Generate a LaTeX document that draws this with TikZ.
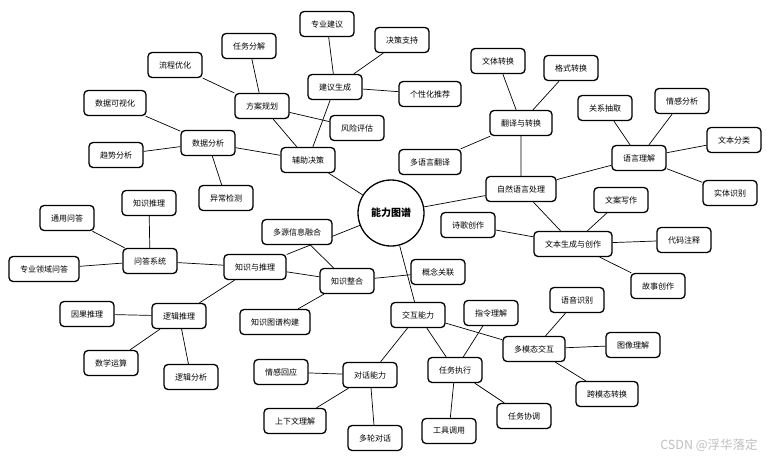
\documentclass[tikz,border=0pt]{standalone}
\usepackage{fontspec}
\setmainfont{Noto Sans CJK SC}
\usetikzlibrary{backgrounds}
\tikzset{
  box/.style={draw, line width=1.3pt, rounded corners=4pt, fill=white, minimum height=25pt, inner xsep=11pt, inner ysep=2pt, font=\fontsize{8}{9}\selectfont},
  hub/.style={draw, circle, line width=1.3pt, fill=white, minimum size=66pt, inner sep=0pt, font=\fontsize{10}{12}\selectfont\bfseries},
  link/.style={draw, line width=0.7pt},
  wmark/.style={text=black!25, font=\fontsize{12.5}{14}\selectfont}
}
\begin{document}
\begin{tikzpicture}[x=1pt,y=-1pt]
\useasboundingbox (0,0) rectangle (775,459);
% central
\node[hub] (c) at (391,213) {能力图谱};
% decision
\node[box] (fzjc) at (308,160) {辅助决策};
\node[box] (sjfx) at (208,143) {数据分析};
\node[box] (fagh) at (262,106) {方案规划};
\node[box] (jysc) at (335,87) {建议生成};
\node[box] (sjksh) at (115,103) {数据可视化};
\node[box] (qsfx) at (116,155) {趋势分析};
\node[box] (ycjc) at (226,198) {异常检测};
\node[box] (lcyh) at (175,65) {流程优化};
\node[box] (rwfj) at (249,46) {任务分解};
\node[box] (fxpg) at (357,128) {风险评估};
\node[box] (zyjy) at (327,24) {专业建议};
\node[box] (jczc) at (402,40) {决策支持};
\node[box] (gxhtj) at (430,94) {个性化推荐};
% NLP
\node[box] (zryy) at (521,189) {自然语言处理};
\node[box] (fyzh) at (521,123) {翻译与转换};
\node[box] (wtzh) at (498,61) {文体转换};
\node[box] (gszh) at (571,68) {格式转换};
\node[box] (dyyfy) at (430,162) {多语言翻译};
\node[box] (yylj) at (639,158) {语言理解};
\node[box] (gxtq) at (605,108) {关系抽取};
\node[box] (qgfx) at (682,101) {情感分析};
\node[box] (wbfl) at (734,140) {文本分类};
\node[box] (stsb) at (730,193) {实体识别};
\node[box] (wbsc) at (573,244) {文本生成与创作};
\node[box] (waxz) at (621,200) {文案写作};
\node[box] (sgcz) at (468,225) {诗歌创作};
\node[box] (dmzs) at (684,240) {代码注释};
\node[box] (gscz) at (658,286) {故事创作};
% knowledge
\node[box] (zsyt) at (255,267) {知识与推理};
\node[box] (zszh) at (347,281) {知识整合};
\node[box] (dyxx) at (297,232) {多源信息融合};
\node[box] (zstp) at (275,322) {知识图谱构建};
\node[box] (gngl) at (438,272) {概念关联};
\node[box] (wdxt) at (150,261) {问答系统};
\node[box] (zstl) at (149,203) {知识推理};
\node[box] (tywd) at (67,218) {通用问答};
\node[box] (zylywd) at (44,269) {专业领域问答};
\node[box] (ljtl) at (179,316) {逻辑推理};
\node[box] (ygtl) at (87,314) {因果推理};
\node[box] (sxys) at (111,363) {数学运算};
\node[box] (ljfx) at (191,377) {逻辑分析};
% interaction
\node[box] (jhnl) at (418,315) {交互能力};
\node[box] (dhnl) at (370,375) {对话能力};
\node[box] (qghy) at (281,372) {情感回应};
\node[box] (sxwlj) at (295,421) {上下文理解};
\node[box] (dldh) at (375,438) {多轮对话};
\node[box] (rwzx) at (455,370) {任务执行};
\node[box] (zllj) at (491,313) {指令理解};
\node[box] (gjdy) at (449,431) {工具调用};
\node[box] (rwxt) at (524,416) {任务协调};
\node[box] (dmtjh) at (534,349) {多模态交互};
\node[box] (yysb) at (577,300) {语音识别};
\node[box] (txlj) at (633,345) {图像理解};
\node[box] (kmtzh) at (607,394) {跨模态转换};
% watermark
\node[wmark] (wm) at (709,445) {CSDN @浮华落定};
\begin{scope}[on background layer]
\path[link] (c) -- (fzjc) (c) -- (zryy) (c) -- (zsyt) (c) -- (jhnl);
\path[link] (fzjc) -- (sjfx) (fzjc) -- (fagh) (fzjc) -- (jysc);
\path[link] (sjfx) -- (sjksh) (sjfx) -- (qsfx) (sjfx) -- (ycjc);
\path[link] (fagh) -- (lcyh) (fagh) -- (rwfj) (fagh) -- (fxpg);
\path[link] (jysc) -- (zyjy) (jysc) -- (jczc) (jysc) -- (gxhtj);
\path[link] (zryy) -- (fyzh) (zryy) -- (yylj) (zryy) -- (wbsc);
\path[link] (fyzh) -- (wtzh) (fyzh) -- (gszh) (fyzh) -- (dyyfy);
\path[link] (yylj) -- (gxtq) (yylj) -- (qgfx) (yylj) -- (wbfl) (yylj) -- (stsb);
\path[link] (wbsc) -- (waxz) (wbsc) -- (sgcz) (wbsc) -- (dmzs) (wbsc) -- (gscz);
\path[link] (zsyt) -- (zszh) (zsyt) -- (wdxt) (zsyt) -- (ljtl);
\path[link] (zszh) -- (dyxx) (zszh) -- (zstp) (zszh) -- (gngl);
\path[link] (wdxt) -- (zstl) (wdxt) -- (tywd) (wdxt) -- (zylywd);
\path[link] (ljtl) -- (ygtl) (ljtl) -- (sxys) (ljtl) -- (ljfx);
\path[link] (jhnl) -- (dhnl) (jhnl) -- (rwzx) (jhnl) -- (dmtjh);
\path[link] (dhnl) -- (qghy) (dhnl) -- (sxwlj) (dhnl) -- (dldh);
\path[link] (rwzx) -- (zllj) (rwzx) -- (gjdy) (rwzx) -- (rwxt);
\path[link] (dmtjh) -- (yysb) (dmtjh) -- (txlj) (dmtjh) -- (kmtzh);
\end{scope}
\end{tikzpicture}
\end{document}
